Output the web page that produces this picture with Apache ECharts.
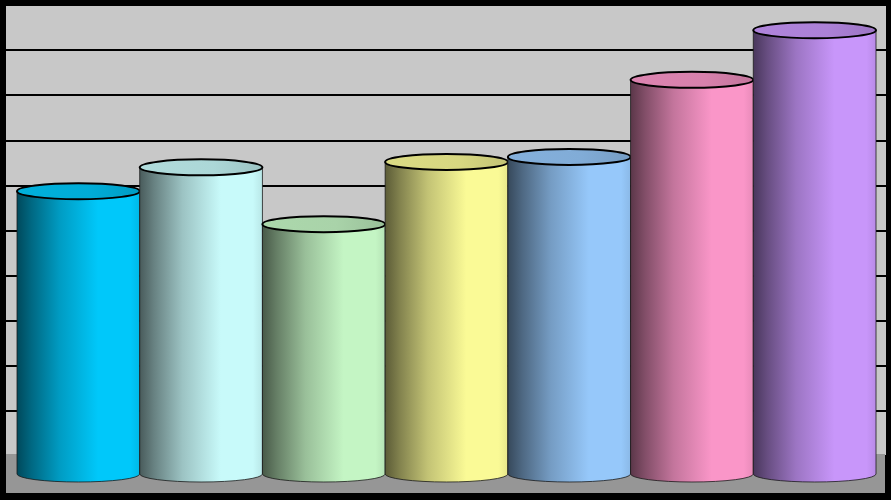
<!DOCTYPE html>
<html><head><meta charset="utf-8">
<style>html,body{margin:0;padding:0;background:#000}#c{width:891px;height:500px}</style>
<script src="https://cdn.jsdelivr.net/npm/echarts@6/dist/echarts.min.js"></script>
</head><body><div id="c"></div>
<script>
var categories = ['1','2','3','4','5','6','7'];
var values = [62.7, 68, 55.4, 69.2, 70.3, 87.4, 98.4];
var barColors = ['#00C8FA','#C8FAFA','#C4F5C4','#FAFA96','#96C8FA','#FA96C8','#C896FA'];

function shade(hex, k){
  var n = parseInt(hex.slice(1),16);
  var r=(n>>16)&255,g=(n>>8)&255,b=n&255;
  return 'rgb('+Math.round(r*k)+','+Math.round(g*k)+','+Math.round(b*k)+')';
}
function grad(stops){
  return new echarts.graphic.LinearGradient(0,0,1,0,stops);
}
var chart = echarts.init(document.getElementById('c'),null,{renderer:'canvas'});
var RY = 8;
chart.setOption({
  animation:false,
  backgroundColor:'#000',
  graphic:[{type:'rect',z:3,silent:true,shape:{x:6,y:454,width:879,height:39},style:{fill:'#969696'}}],
  grid:[
    {left:6,top:5,width:880,height:451,show:true,backgroundColor:'#C8C8C8',borderWidth:0,z:0},
    {left:17,top:23,width:859,height:451,show:false}
  ],
  xAxis:[
    {gridIndex:0,type:'category',data:categories,show:false},
    {gridIndex:1,type:'category',data:categories,show:false}
  ],
  yAxis:[
    {gridIndex:0,type:'value',min:0,max:100,interval:10,
      axisLine:{show:false},axisTick:{show:false},axisLabel:{show:false},
      splitLine:{show:true,lineStyle:{color:'#000',width:2}}},
    {gridIndex:1,type:'value',min:0,max:100,show:false,splitLine:{show:false}}
  ],
  series:[{
    type:'custom',xAxisIndex:1,yAxisIndex:1,z:5,
    data:values.map(function(v,i){return [i,v];}),
    encode:{x:0,y:1},
    clip:false,
    renderItem:function(params,api){
      var i=api.value(0), top=api.coord([i,api.value(1)]), base=api.coord([i,0]);
      var w=api.size([1,0])[0], rx=w/2, cx=top[0], x0=cx-rx, x1=cx+rx;
      var c=barColors[i];
      var body='M'+x0+' '+top[1]+'L'+x0+' '+base[1]+'A'+rx+' '+RY+' 0 0 0 '+x1+' '+base[1]+'L'+x1+' '+top[1]+'Z';
      return {type:'group',children:[
        {type:'path',shape:{pathData:body,layout:'cover',x:x0,y:top[1],width:w,height:base[1]+RY-top[1]},
         style:{fill:grad([
          {offset:0,color:shade(c,0.36)},
          {offset:0.12,color:shade(c,0.52)},
          {offset:0.35,color:shade(c,0.78)},
          {offset:0.66,color:shade(c,1)},
          {offset:0.92,color:shade(c,1)},
          {offset:1,color:shade(c,0.92)}]),stroke:'#1a1a1a',lineWidth:0.8}},
        {type:'ellipse',shape:{cx:cx,cy:top[1],rx:rx,ry:RY},
         style:{fill:grad([
          {offset:0,color:shade(c,0.88)},
          {offset:0.6,color:shade(c,0.86)},
          {offset:1,color:shade(c,0.78)}]),stroke:'#000',lineWidth:2}}
      ]};
    }
  }]
});
</script></body></html>
